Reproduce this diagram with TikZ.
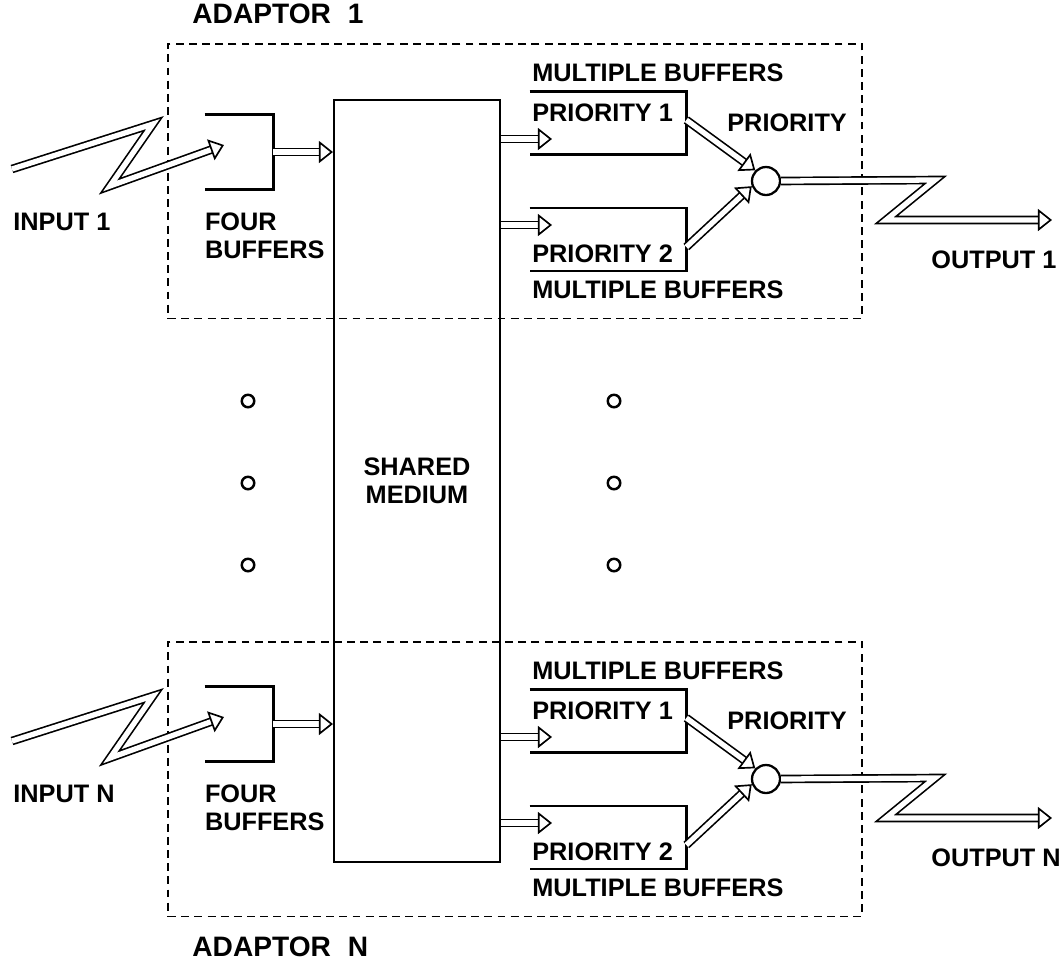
\documentclass[tikz,border=0pt]{standalone}
\usepackage{fontspec}
\setmainfont{Liberation Sans}
\usetikzlibrary{arrows.meta,positioning}
\tikzset{
  >={Triangle[open,length=8pt,width=12.5pt,line width=0.95pt,fill=white]},
  lbl/.style={font=\fontsize{14.4}{16}\selectfont\bfseries,inner sep=0pt,align=left},
  adaptor/.style={rectangle,draw,line width=1.1pt,dash pattern=on 4.5pt off 3pt},
  medium/.style={rectangle,draw,line width=1.2pt,minimum width=3.32cm,minimum height=15.26cm,
    font=\fontsize{14.4}{16}\selectfont\bfseries,align=center},
  bufbox/.style={rectangle,minimum width=1.36cm,minimum height=1.48cm},
  prio/.style={rectangle,minimum width=3.12cm,minimum height=1.25cm},
  side/.style={line width=1.5pt},
  mux/.style={circle,draw,line width=1.3pt,fill=white,minimum size=0.56cm,inner sep=0pt},
  pipe/.style={double,double distance=3pt,line width=0.95pt,->},
  zigzag/.style={pipe,line join=miter},
  dot/.style={circle,draw,line width=1.4pt,minimum size=0.25cm,inner sep=0pt}
}

\begin{document}
\begin{tikzpicture}[x=0.02cm,y=-0.02cm]
  \useasboundingbox (0,0) rectangle (1062,965);

  \node[medium] (med) at (417,481) {SHARED\\MEDIUM};

  % one pass per adaptor: name / input offset / output offset
  \foreach \n/\yi/\yo in {1/0/0, N/572/598} {
    \node[adaptor,minimum width=13.88cm,minimum height=5.5cm] (ad\n) at (515,181+\yo) {};

    % input side
    \node[bufbox] (buf\n) at (239,152+\yi) {};
    \draw[side] (buf\n.north west) -- (buf\n.north east) -- (buf\n.south east) -- (buf\n.south west);
    \node[lbl,below right=0.46cm and 0cm of buf\n.south west] (bufl\n) {FOUR\\BUFFERS};
    \coordinate (in\n) at (12,169+\yi);
    \coordinate (tip\n) at (224,145+\yi);
    \draw[zigzag] (in\n) -- ++(141,-45) -- ++(-43,62) -- (tip\n);
    \node[lbl,anchor=west] (inl\n) at (13,222+\yi) {INPUT \n};
    \draw[pipe] (buf\n.east) -- (buf\n.east -| med.west);

    % output side
    \node[prio] (pa\n) at (608,123+\yo) {};
    \node[prio] (pb\n) at (608,239.5+\yo) {};
    \draw[side] (pa\n.north west) -- (pa\n.north east) -- (pa\n.south east) -- (pa\n.south west);
    \draw[side] (pb\n.north west) -- (pb\n.north east) -- (pb\n.south east) -- (pb\n.south west);
    \node[lbl,anchor=west] (pal\n) at (532,113+\yo) {PRIORITY 1};
    \node[lbl,anchor=west] (pbl\n) at (532,254+\yo) {PRIORITY 2};
    \node[lbl,anchor=west] (mba\n) at (532,73+\yo) {MULTIPLE BUFFERS};
    \node[lbl,anchor=west] (mbb\n) at (532,290+\yo) {MULTIPLE BUFFERS};
    \coordinate (qa\n) at (552,139+\yo);
    \coordinate (qb\n) at (552,225+\yo);
    \draw[pipe] (qa\n -| med.east) -- (qa\n);
    \draw[pipe] (qb\n -| med.east) -- (qb\n);

    \node[mux] (mux\n) at (766,181+\yo) {};
    \node[lbl,anchor=west] (muxl\n) at (727,123+\yo) {PRIORITY};
    \draw[pipe] ([yshift=0.06cm]pa\n.east) -- (mux\n.north west);
    \draw[pipe] ([yshift=-0.15cm]pb\n.east) -- (mux\n.200);

    \coordinate (out\n) at (1052,220+\yo);
    \draw[zigzag] (mux\n.east) -- (935,180+\yo) -- (886,220+\yo) -- (out\n);
    \node[lbl,anchor=west] (outl\n) at (931,260+\yo) {OUTPUT \n};
  }

  \node[lbl,font=\fontsize{16}{18}\selectfont\bfseries,anchor=south west] (adl1)
    at ([xshift=0.5cm,yshift=0.36cm]ad1.north west) {ADAPTOR\hspace{0.6em}1};
  \node[lbl,font=\fontsize{16}{18}\selectfont\bfseries,anchor=north west] (adlN)
    at ([xshift=0.5cm,yshift=-0.38cm]adN.south west) {ADAPTOR\hspace{0.6em}N};

  % the dots between the two adaptors
  \foreach \y in {401,483,565} {
    \node[dot] (dl\y) at (248,\y) {};
    \node[dot] (dr\y) at (614,\y) {};
  }
\end{tikzpicture}
\end{document}
